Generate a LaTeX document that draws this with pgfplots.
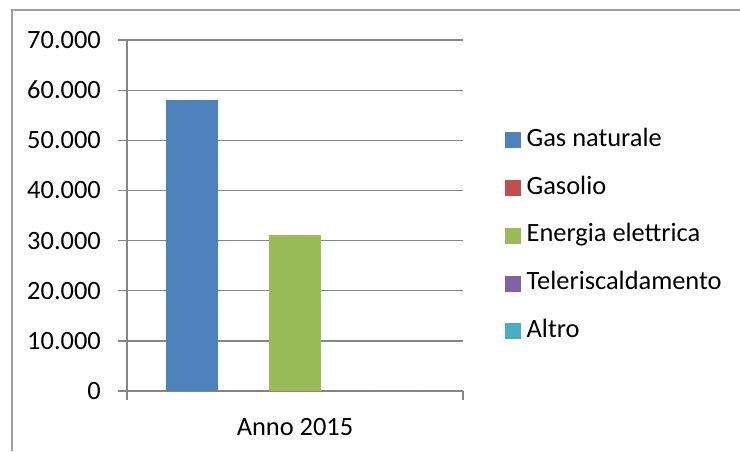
\documentclass[border=0pt]{standalone}
\usepackage{fontspec}
\setmainfont{Carlito}
\usepackage{pgfplots}
\pgfplotsset{compat=1.18}
\definecolor{gridgray}{HTML}{868686}
\definecolor{framegray}{HTML}{A0A0A0}
\definecolor{cBlue}{HTML}{4F81BD}
\definecolor{cRed}{HTML}{C0504D}
\definecolor{cGreen}{HTML}{9BBB59}
\definecolor{cPurple}{HTML}{8064A2}
\definecolor{cCyan}{HTML}{4BACC6}
\begin{document}
\fontsize{13.2}{15}\selectfont
\begin{tikzpicture}[font=\fontsize{13.2}{15}\selectfont]
\path[use as bounding box] (0,0) rectangle (370pt,225.5pt);
\draw[framegray, line width=0.8pt] (6pt,0) -- (6pt,220.5pt) -- (370pt,220.5pt);
\begin{axis}[
  at={(63.5pt,30pt)}, anchor=south west,
  scale only axis, width=168pt, height=175.5pt,
  ybar=0pt, bar width=25.8pt,
  xmin=-0.5, xmax=0.5, ymin=0, ymax=70000,
  ytick={0,10000,...,70000},
  xtick={-0.5,0.5}, xticklabels={},
  extra x ticks={0}, extra x tick labels={Anno 2015},
  extra x tick style={major tick length=0pt, xticklabel style={yshift=-9pt}},
  scaled y ticks=false,
  /pgf/number format/.cd, 1000 sep={.}, assume math mode=true, /pgfplots/.cd,
  tick align=outside, major tick length=4.5pt,
  tick style={gridgray, line width=0.65pt},
  axis line style={gridgray, line width=0.65pt},
  axis x line*=bottom, axis y line*=left,
  ymajorgrids, grid style={gridgray, line width=0.65pt},
  yticklabel style={anchor=east, xshift=-4pt},
  legend cell align=left,
  legend style={draw=none, fill=none, at={(1.105,0.442)}, anchor=west,
    row sep=11.9pt, nodes={inner sep=0pt, text height=9pt, text depth=3pt}},
  legend image code/.code={\fill[#1] (0pt,-4pt) rectangle (8pt,4pt); \path (11pt,0pt);},
]
\addplot[fill=cBlue, draw=none] coordinates {(0,58000)};
\addplot[fill=cRed, draw=none] coordinates {(0,0)};
\addplot[fill=cGreen, draw=none] coordinates {(0,31100)};
\addplot[fill=cPurple, draw=none] coordinates {(0,0)};
\addplot[fill=cCyan, draw=none] coordinates {(0,0)};
\legend{Gas naturale, Gasolio, Energia elettrica, Teleriscaldamento, Altro}
\end{axis}
\end{tikzpicture}
\end{document}
